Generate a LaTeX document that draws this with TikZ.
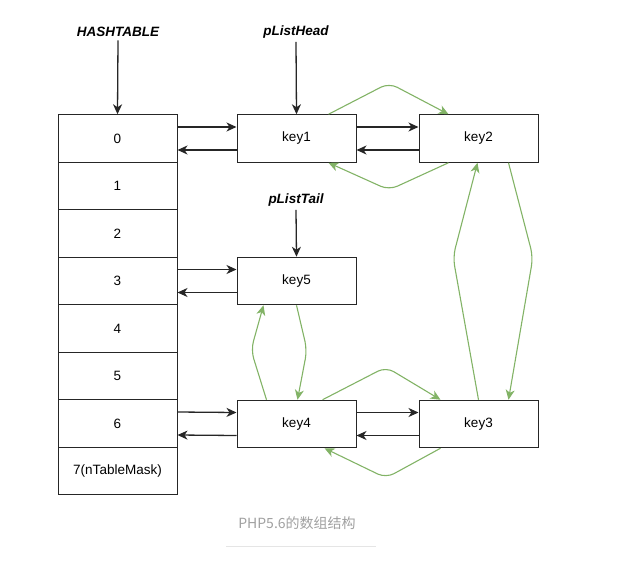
\documentclass[tikz,border=0pt]{standalone}
\usepackage{fontspec}
\setmainfont{Liberation Sans}
\newfontfamily\cjk{Noto Sans CJK SC}
\usetikzlibrary{arrows.meta}
\definecolor{grn}{HTML}{82B366}
\definecolor{capgray}{HTML}{A0A0A0}
\tikzset{
  cell/.style={draw=black!85, line width=1pt, minimum width=119pt, minimum height=47.5pt, inner sep=0pt, font=\fontsize{13.5}{16}\selectfont},
  keybox/.style={cell},
  lbl/.style={font=\fontsize{13.5}{16}\selectfont\bfseries\itshape},
  blk/.style={draw=black!85, line width=1.3pt, -{Stealth[length=10pt,width=9pt,inset=3pt]}},
  gl/.style={draw=grn, line width=1.1pt, rounded corners=9pt, -{Stealth[length=10pt,width=9pt,inset=3pt]}}
}
\begin{document}
\begin{tikzpicture}[x=1pt,y=-1pt]
\useasboundingbox (0,0) rectangle (643,560);
% hashtable
\foreach \i/\t in {0/0,1/1,2/2,3/3,4/4,5/5,6/6,7/7(nTableMask)}{
  \node[cell] (c\i) at (117.5,{138.5+47.5*\i}) {\t};
}
\node[keybox] (k1) at (296.5,138.5) {key1};
\node[keybox] (k2) at (478.5,138.5) {key2};
\node[keybox] (k5) at (296.5,281) {key5};
\node[keybox] (k4) at (296.5,424) {key4};
\node[keybox] (k3) at (478.5,424) {key3};
% labels
\node[lbl] (ht) at (118,32) {HASHTABLE};
\node[lbl] (plh) at (296,32) {pListHead};
\node[lbl] (plt) at (296,200) {pListTail};
\draw[blk] (ht.south) -- (c0.north);
\draw[blk] (plh.south) -- (k1.north);
\draw[blk] (plt.south) -- (k5.north);
% black links
\foreach \a/\b in {c0/k1,k1/k2,c3/k5,c6/k4,k4/k3}{
  \draw[blk] ([yshift=11.5pt]\a.east) -- ([yshift=11.5pt]\b.west);
  \draw[blk] ([yshift=-11.5pt]\b.west) -- ([yshift=-11.5pt]\a.east);
}
% green links
\draw[gl] ([xshift=32pt]k1.north) -- (389,83) -- ([xshift=-30pt]k2.north);
\draw[gl] ([xshift=-30pt]k2.south) -- (389,190) -- ([xshift=32pt]k1.south);
\draw[gl] ([xshift=30pt]k2.south) -- (533,257) -- ([xshift=30pt]k3.north);
\draw[gl] ([xshift=0pt]k3.north) -- (453,257) -- ([xshift=-1pt]k2.south);
\draw[gl] ([xshift=-30pt]k4.north) -- (251,350) -- ([xshift=-33pt]k5.south);
\draw[gl] ([xshift=0pt]k5.south) -- (307,350) -- ([xshift=1pt]k4.north);
\draw[gl] ([xshift=26pt]k4.north) -- (386,367) -- ([xshift=-38pt]k3.north);
\draw[gl] ([xshift=-38pt]k3.south) -- (386,478) -- ([xshift=28pt]k4.south);
% caption
\node[font=\cjk\fontsize{14}{17}\selectfont, text=capgray] (cap) at (297,523) {PHP5.6的数组结构};
\draw[draw=black!10, line width=0.8pt] (226,546) -- (376,546);
\end{tikzpicture}
\end{document}
